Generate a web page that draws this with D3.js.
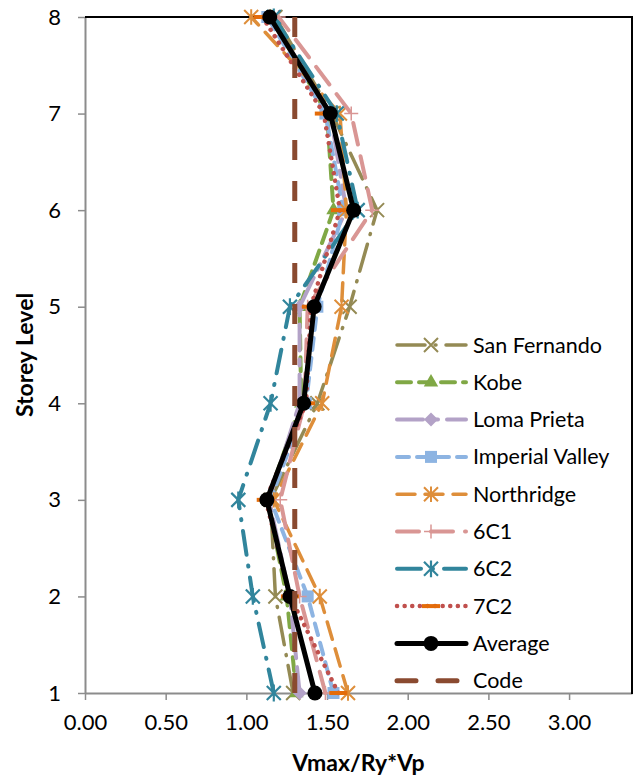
<!DOCTYPE html>
<html><head><meta charset="utf-8">
<script src="https://cdn.jsdelivr.net/npm/d3@7"></script>
<style>
html,body{margin:0;padding:0;background:#fff;}
svg{display:block;font-family:Lato,"Open Sans",sans-serif;}
</style></head><body>
<svg id="chart" width="638" height="783"></svg>
<script>
const storeys = [1,2,3,4,5,6,7,8];
const xTicks = [0,0.5,1,1.5,2,2.5,3];
const yTicks = [1,2,3,4,5,6,7,8];
const sanFernando   = [1.29,1.18,1.15,1.44,1.64,1.81,1.53,1.18];
const kobe          = [1.31,1.25,1.13,1.34,1.33,1.54,1.50,1.15];
const lomaPrieta    = [1.33,1.27,1.14,1.33,1.33,1.62,1.52,1.15];
const imperialValley= [1.54,1.38,1.15,1.37,1.44,1.60,1.49,1.13];
const northridge    = [1.63,1.455,1.17,1.47,1.59,1.62,1.58,1.03];
const c6C1          = [1.49,1.33,1.21,1.36,1.38,1.78,1.65,1.20];
const c6C2          = [1.17,1.04,0.95,1.15,1.27,1.69,1.56,1.17];
const c7C2          = [1.57,1.27,1.12,1.37,1.40,1.58,1.48,1.10];
const average       = [1.425,1.27,1.127,1.355,1.42,1.665,1.52,1.145];
const code          = [1.30,1.30,1.30,1.30,1.30,1.30,1.30,1.30];
const seriesNames = ["San Fernando","Kobe","Loma Prieta","Imperial Valley","Northridge","6C1","6C2","7C2","Average","Code"];

const series = [
  {name:seriesNames[0], v:sanFernando, color:"#948A54", w:3.5, dash:"28,10,1,10", marker:"x", mcolor:"#948A54"},
  {name:seriesNames[1], v:kobe, color:"#80A845", w:4, dash:"14,8", marker:"tri", mcolor:"#80A845"},
  {name:seriesNames[2], v:lomaPrieta, color:"#B3A2C7", w:4, dash:"26,9,6,9", marker:"diamond", mcolor:"#B3A2C7"},
  {name:seriesNames[3], v:imperialValley, color:"#8DB4E2", w:4, dash:"12,8", marker:"square", mcolor:"#8DB4E2"},
  {name:seriesNames[4], v:northridge, color:"#DE8E3A", w:3.5, dash:"18,10", marker:"asterisk", mcolor:"#DE8E3A"},
  {name:seriesNames[5], v:c6C1, color:"#D99694", w:4, dash:"22,12", marker:"plus", mcolor:"#D99694"},
  {name:seriesNames[6], v:c6C2, color:"#31859C", w:4, dash:"24,11,1,11", marker:"star", mcolor:"#31859C"},
  {name:seriesNames[7], v:c7C2, color:"#C0504D", w:4.5, dash:"0.1,7.5", marker:"hdash", mcolor:"#E46C0A"},
  {name:seriesNames[8], v:average, color:"#000000", w:5, dash:null, marker:"circle", mcolor:"#000000"},
  {name:seriesNames[9], v:code, color:"#8A4A30", w:5, dash:"20,21", marker:null, mcolor:null}
];

const svg = d3.select("#chart");
const L=85, R=632, T=17, B=693;
const x = d3.scaleLinear().domain([0,3.39]).range([L,R]);
const y = d3.scaleLinear().domain([1,8]).range([B,T]);

// axes
const xAxis = svg.append("g").attr("transform",`translate(0,${B})`)
  .call(d3.axisBottom(x).tickValues(xTicks).tickFormat(d3.format(".2f")).tickSize(7).tickSizeOuter(0).tickPadding(14));
const yAxis = svg.append("g").attr("transform",`translate(${L},0)`)
  .call(d3.axisLeft(y).tickValues(yTicks).tickFormat(d3.format("d")).tickSize(7).tickSizeOuter(0).tickPadding(17));
[xAxis,yAxis].forEach(a=>{
  a.select(".domain").attr("stroke","#8c8c8c").attr("stroke-width",2);
  a.selectAll(".tick line").attr("stroke","#8c8c8c").attr("stroke-width",1.5);
  a.selectAll(".tick text").attr("fill","#000").style("font-size","22px").style("font-family","Lato,sans-serif");
});
// top & right border
svg.append("line").attr("x1",L).attr("x2",R+1).attr("y1",T).attr("y2",T).attr("stroke","#000").attr("stroke-width",2);
svg.append("line").attr("x1",R).attr("x2",R).attr("y1",T).attr("y2",B+1).attr("stroke","#000").attr("stroke-width",2);

// titles
svg.append("text").attr("x",(L+R)/2).attr("y",771).attr("text-anchor","middle")
  .style("font-size","23px").style("font-weight","bold").text("Vmax/Ry*Vp");
svg.append("text").attr("transform",`translate(33,${(T+B)/2}) rotate(-90)`).attr("text-anchor","middle")
  .style("font-size","23px").style("font-weight","bold").text("Storey Level");

function drawMarker(g, type, cx, cy, color, scale=1){
  const s=7*scale;
  if(type==="x"){
    g.append("path").attr("d",`M${cx-s},${cy-s}L${cx+s},${cy+s}M${cx-s},${cy+s}L${cx+s},${cy-s}`).attr("stroke",color).attr("stroke-width",2).attr("fill","none");
  } else if(type==="tri"){
    g.append("path").attr("d",d3.symbol(d3.symbolTriangle, 90*scale)()).attr("transform",`translate(${cx},${cy})`).attr("fill",color);
  } else if(type==="diamond"){
    g.append("path").attr("d",`M${cx},${cy-s}L${cx+s},${cy}L${cx},${cy+s}L${cx-s},${cy}Z`).attr("fill",color);
  } else if(type==="square"){
    g.append("rect").attr("x",cx-6).attr("y",cy-6).attr("width",12).attr("height",12).attr("fill",color);
  } else if(type==="asterisk"){
    g.append("path").attr("d",`M${cx-s},${cy-s}L${cx+s},${cy+s}M${cx-s},${cy+s}L${cx+s},${cy-s}M${cx},${cy-s*1.1}L${cx},${cy+s*1.1}`).attr("stroke",color).attr("stroke-width",2).attr("fill","none");
  } else if(type==="plus"){
    g.append("path").attr("d",`M${cx-s},${cy}L${cx+s},${cy}M${cx},${cy-s}L${cx},${cy+s}`).attr("stroke",color).attr("stroke-width",1.5).attr("fill","none");
  } else if(type==="star"){
    g.append("path").attr("d",`M${cx-s},${cy-s}L${cx+s},${cy+s}M${cx-s},${cy+s}L${cx+s},${cy-s}M${cx},${cy-s*1.2}L${cx},${cy+s*1.2}`).attr("stroke",color).attr("stroke-width",2.2).attr("fill","none");
  } else if(type==="hdash"){
    g.append("line").attr("x1",cx-9).attr("x2",cx+9).attr("y1",cy).attr("y2",cy).attr("stroke",color).attr("stroke-width",4);
  } else if(type==="circle"){
    g.append("circle").attr("cx",cx).attr("cy",cy).attr("r",7.5).attr("fill",color);
  }
}

const line = d3.line().x(d=>x(d[0])).y(d=>y(d[1]));
const plot = svg.append("g");
series.forEach(s=>{
  const pts = storeys.map((st,i)=>[s.v[i],st]);
  const p = plot.append("path").datum(pts).attr("d",line).attr("fill","none")
    .attr("stroke",s.color).attr("stroke-width",s.w).attr("stroke-linecap","round").attr("stroke-linejoin","round");
  if(s.dash) p.attr("stroke-dasharray",s.dash);
  if(s.name==="Code") p.attr("stroke-linecap","butt");
  if(s.marker){
    const mg = plot.append("g");
    pts.forEach(d=>drawMarker(mg,s.marker,x(d[0]),y(d[1]),s.mcolor));
  }
});

// legend
const lg = svg.append("g");
series.forEach((s,i)=>{
  const ly = 345 + i*37.3;
  const ln = lg.append("line").attr("x1",397).attr("x2",s.name==="Code"?459:466).attr("y1",ly).attr("y2",ly)
    .attr("stroke",s.color).attr("stroke-width",s.w).attr("stroke-linecap","round");
  if(s.dash) ln.attr("stroke-dasharray", s.name==="Code" ? "19,22" : s.dash);
  if(s.marker) drawMarker(lg,s.marker,431,ly,s.mcolor);
  lg.append("text").attr("x",473).attr("y",ly+7.5).style("font-size","21.5px").text(s.name);
});
</script>
</body></html>
